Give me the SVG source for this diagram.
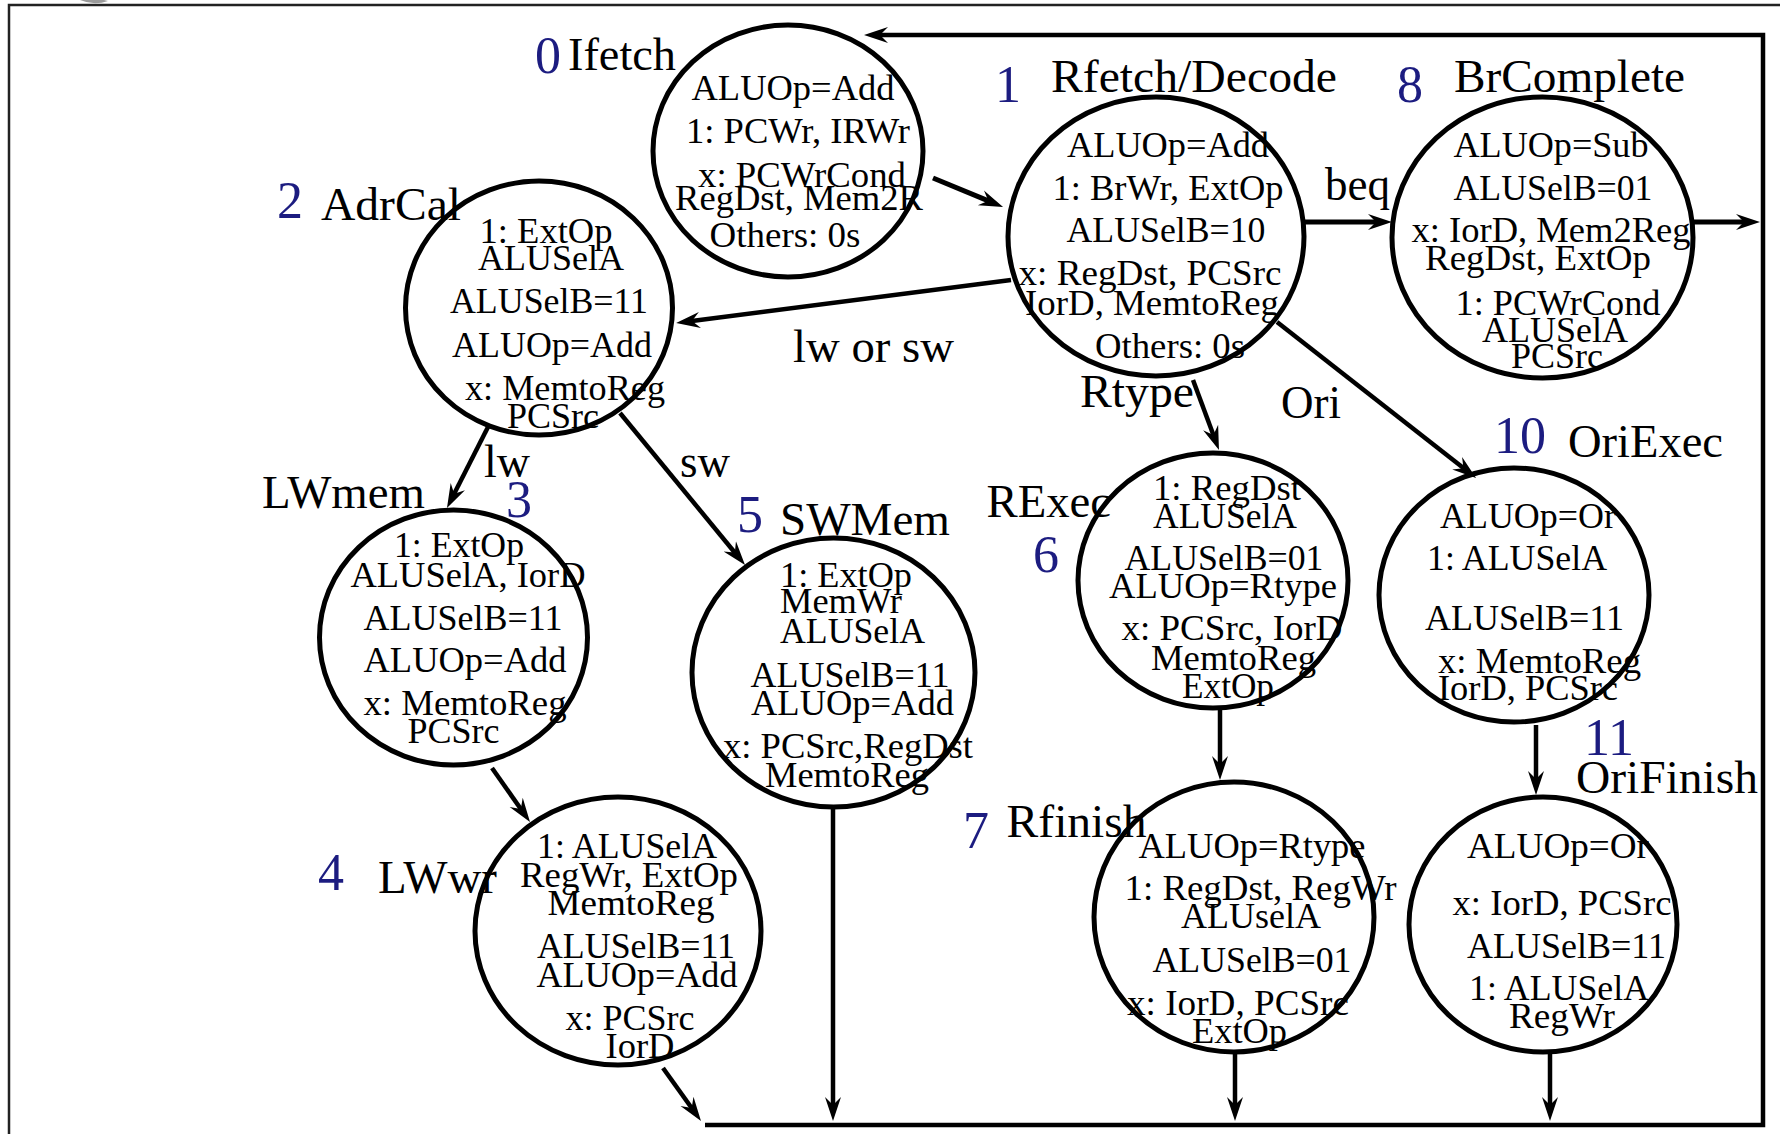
<svg xmlns="http://www.w3.org/2000/svg" width="1780" height="1134" viewBox="0 0 1780 1134">
  <style>
    .ring { fill: none; stroke: #000; stroke-width: 5; }
    .t { font-family: "Liberation Serif", "Times New Roman", serif; font-size: 36px; text-anchor: middle; fill: #000; }
    .lbl { font-family: "Liberation Serif", "Times New Roman", serif; font-size: 47px; fill: #000; }
    .num { font-family: "Liberation Serif", "Times New Roman", serif; font-size: 52px; fill: #1c1c80; }
    .edge { fill: none; stroke: #000; stroke-width: 4.5; marker-end: url(#dart); }
    .heavy { stroke-width: 5; }
  </style>
  <defs>
    <marker id="dart" markerUnits="userSpaceOnUse" markerWidth="26" markerHeight="20" viewBox="0 -10 26 20" refX="12" refY="0" orient="auto">
      <path d="M24,0 L0,-8 L8,0 L0,8 Z" fill="#000"/>
    </marker>
  </defs>

  <rect width="1780" height="1134" fill="#fff"/>
  <!-- page frame -->
  <path d="M9,1134 V5 H1780" fill="none" stroke="#222" stroke-width="2.5"/>
  <path d="M80,0 Q94,6 108,1 L104,0 Z" fill="#9a9a9a"/>

  <!-- connectors -->
  <g id="connectors">
    <path class="edge" d="M705,1125 H1763 V35 H876" stroke-width="6"/>
    <path class="edge heavy" d="M933,178 L992,202.4"/>
    <path class="edge heavy" d="M1304,222 H1380"/>
    <path class="edge heavy" d="M1693,222 H1748"/>
    <path class="edge" d="M1011,280 L688,321.5"/>
    <path class="edge" d="M488,427 L452.4,497.3"/>
    <path class="edge" d="M620,413 L737.4,555.7"/>
    <path class="edge" d="M492,768 L523.1,812.2"/>
    <path class="edge" d="M663,1068 L694,1111.2"/>
    <path class="edge" d="M833,807 V1109"/>
    <path class="edge" d="M1193,380 L1214.8,438.8"/>
    <path class="edge" d="M1277,322 L1466.6,470.6"/>
    <path class="edge" d="M1220,710 V768"/>
    <path class="edge" d="M1235,1052 V1109"/>
    <path class="edge" d="M1536,725 V783"/>
    <path class="edge" d="M1550,1053 V1109"/>
    <text class="lbl" x="1325" y="200" textLength="65" lengthAdjust="spacingAndGlyphs">beq</text>
    <text class="lbl" x="793" y="362" textLength="161" lengthAdjust="spacingAndGlyphs">lw or sw</text>
    <text class="lbl" x="484" y="477" textLength="46" lengthAdjust="spacingAndGlyphs">lw</text>
    <text class="lbl" x="680" y="477" textLength="50" lengthAdjust="spacingAndGlyphs">sw</text>
    <text class="lbl" x="1080" y="407" textLength="114" lengthAdjust="spacingAndGlyphs">Rtype</text>
    <text class="lbl" x="1281" y="418" textLength="60" lengthAdjust="spacingAndGlyphs">Ori</text>
  </g>

  <!-- state 0: instruction fetch -->
  <g id="s0-ifetch">
    <ellipse class="ring" cx="788" cy="151" rx="135" ry="126"/>
    <text class="num" x="535" y="73">0</text>
    <text class="lbl" x="568" y="70" textLength="108" lengthAdjust="spacingAndGlyphs">Ifetch</text>
    <text class="t" x="793" y="100" textLength="203" lengthAdjust="spacingAndGlyphs">ALUOp=Add</text>
    <text class="t" x="798" y="143" textLength="224" lengthAdjust="spacingAndGlyphs">1: PCWr, IRWr</text>
    <text class="t" x="802" y="187" textLength="208" lengthAdjust="spacingAndGlyphs">x: PCWrCond</text>
    <text class="t" x="799" y="210" textLength="248" lengthAdjust="spacingAndGlyphs">RegDst, Mem2R</text>
    <text class="t" x="785" y="247" textLength="151" lengthAdjust="spacingAndGlyphs">Others: 0s</text>
  </g>

  <!-- state 1: register fetch / decode -->
  <g id="s1-rfetch">
    <ellipse class="ring" cx="1156" cy="236.5" rx="148" ry="139.5"/>
    <text class="num" x="995" y="102">1</text>
    <text class="lbl" x="1051" y="92" textLength="286" lengthAdjust="spacingAndGlyphs">Rfetch/Decode</text>
    <text class="t" x="1168" y="157" textLength="202" lengthAdjust="spacingAndGlyphs">ALUOp=Add</text>
    <text class="t" x="1168" y="200" textLength="231" lengthAdjust="spacingAndGlyphs">1: BrWr, ExtOp</text>
    <text class="t" x="1166" y="242" textLength="199" lengthAdjust="spacingAndGlyphs">ALUSelB=10</text>
    <text class="t" x="1150" y="285" textLength="263" lengthAdjust="spacingAndGlyphs">x: RegDst, PCSrc</text>
    <text class="t" x="1152" y="315" textLength="254" lengthAdjust="spacingAndGlyphs">IorD, MemtoReg</text>
    <text class="t" x="1170" y="358" textLength="150" lengthAdjust="spacingAndGlyphs">Others: 0s</text>
  </g>

  <!-- state 8: branch complete -->
  <g id="s8-brcomplete">
    <ellipse class="ring" cx="1542.5" cy="237.5" rx="150.5" ry="140.5"/>
    <text class="num" x="1397" y="102">8</text>
    <text class="lbl" x="1454" y="92" textLength="231" lengthAdjust="spacingAndGlyphs">BrComplete</text>
    <text class="t" x="1551" y="157" textLength="195" lengthAdjust="spacingAndGlyphs">ALUOp=Sub</text>
    <text class="t" x="1553" y="200" textLength="199" lengthAdjust="spacingAndGlyphs">ALUSelB=01</text>
    <text class="t" x="1551" y="242" textLength="279" lengthAdjust="spacingAndGlyphs">x: IorD, Mem2Reg</text>
    <text class="t" x="1538" y="270" textLength="226" lengthAdjust="spacingAndGlyphs">RegDst, ExtOp</text>
    <text class="t" x="1558" y="315" textLength="205" lengthAdjust="spacingAndGlyphs">1: PCWrCond</text>
    <text class="t" x="1555" y="342" textLength="146" lengthAdjust="spacingAndGlyphs">ALUSelA</text>
    <text class="t" x="1557" y="368" textLength="92" lengthAdjust="spacingAndGlyphs">PCSrc</text>
  </g>

  <!-- state 2: address calculation -->
  <g id="s2-adrcal">
    <ellipse class="ring" cx="539" cy="308" rx="133.5" ry="127"/>
    <text class="num" x="277" y="218">2</text>
    <text class="lbl" x="321" y="220" textLength="140" lengthAdjust="spacingAndGlyphs">AdrCal</text>
    <text class="t" x="546" y="243" textLength="133" lengthAdjust="spacingAndGlyphs">1: ExtOp</text>
    <text class="t" x="551" y="270" textLength="146" lengthAdjust="spacingAndGlyphs">ALUSelA</text>
    <text class="t" x="549" y="313" textLength="198" lengthAdjust="spacingAndGlyphs">ALUSelB=11</text>
    <text class="t" x="552" y="357" textLength="200" lengthAdjust="spacingAndGlyphs">ALUOp=Add</text>
    <text class="t" x="565" y="400" textLength="200" lengthAdjust="spacingAndGlyphs">x: MemtoReg</text>
    <text class="t" x="553" y="428" textLength="92" lengthAdjust="spacingAndGlyphs">PCSrc</text>
  </g>

  <!-- state 3: load memory access -->
  <g id="s3-lwmem">
    <ellipse class="ring" cx="453.5" cy="637.5" rx="134" ry="127.5"/>
    <text class="lbl" x="262" y="508" textLength="163" lengthAdjust="spacingAndGlyphs">LWmem</text>
    <text class="num" x="506" y="517">3</text>
    <text class="t" x="459" y="557" textLength="130" lengthAdjust="spacingAndGlyphs">1: ExtOp</text>
    <text class="t" x="468" y="587" textLength="235" lengthAdjust="spacingAndGlyphs">ALUSelA, IorD</text>
    <text class="t" x="463" y="630" textLength="199" lengthAdjust="spacingAndGlyphs">ALUSelB=11</text>
    <text class="t" x="465" y="672" textLength="203" lengthAdjust="spacingAndGlyphs">ALUOp=Add</text>
    <text class="t" x="465" y="715" textLength="203" lengthAdjust="spacingAndGlyphs">x: MemtoReg</text>
    <text class="t" x="453.5" y="743" textLength="92" lengthAdjust="spacingAndGlyphs">PCSrc</text>
  </g>

  <!-- state 4: load write-back -->
  <g id="s4-lwwr">
    <ellipse class="ring" cx="618" cy="931" rx="143" ry="134"/>
    <text class="num" x="318" y="890">4</text>
    <text class="lbl" x="378" y="893" textLength="119" lengthAdjust="spacingAndGlyphs">LWwr</text>
    <text class="t" x="627" y="858" textLength="180" lengthAdjust="spacingAndGlyphs">1: ALUSelA</text>
    <text class="t" x="629" y="887" textLength="218" lengthAdjust="spacingAndGlyphs">RegWr, ExtOp</text>
    <text class="t" x="631" y="915" textLength="167" lengthAdjust="spacingAndGlyphs">MemtoReg</text>
    <text class="t" x="636" y="958" textLength="198" lengthAdjust="spacingAndGlyphs">ALUSelB=11</text>
    <text class="t" x="637" y="987" textLength="201" lengthAdjust="spacingAndGlyphs">ALUOp=Add</text>
    <text class="t" x="630" y="1030" textLength="129" lengthAdjust="spacingAndGlyphs">x: PCSrc</text>
    <text class="t" x="640" y="1058" textLength="69" lengthAdjust="spacingAndGlyphs">IorD</text>
  </g>

  <!-- state 5: store memory access -->
  <g id="s5-swmem">
    <ellipse class="ring" cx="833.5" cy="672.5" rx="141.5" ry="134.5"/>
    <text class="num" x="737" y="532">5</text>
    <text class="lbl" x="780" y="535" textLength="170" lengthAdjust="spacingAndGlyphs">SWMem</text>
    <text class="t" x="846" y="587" textLength="132" lengthAdjust="spacingAndGlyphs">1: ExtOp</text>
    <text class="t" x="841" y="613" textLength="122" lengthAdjust="spacingAndGlyphs">MemWr</text>
    <text class="t" x="852.5" y="643" textLength="145" lengthAdjust="spacingAndGlyphs">ALUSelA</text>
    <text class="t" x="850" y="687" textLength="199" lengthAdjust="spacingAndGlyphs">ALUSelB=11</text>
    <text class="t" x="852.5" y="715" textLength="203" lengthAdjust="spacingAndGlyphs">ALUOp=Add</text>
    <text class="t" x="848" y="758" textLength="250" lengthAdjust="spacingAndGlyphs">x: PCSrc,RegDst</text>
    <text class="t" x="847" y="787" textLength="164" lengthAdjust="spacingAndGlyphs">MemtoReg</text>
  </g>

  <!-- state 6: R-type execute -->
  <g id="s6-rexec">
    <ellipse class="ring" cx="1213" cy="580.5" rx="135" ry="127.5"/>
    <text class="lbl" x="986.5" y="517" textLength="124.5" lengthAdjust="spacingAndGlyphs">RExec</text>
    <text class="num" x="1033" y="572">6</text>
    <text class="t" x="1227" y="500" textLength="148" lengthAdjust="spacingAndGlyphs">1: RegDst</text>
    <text class="t" x="1225" y="528" textLength="144" lengthAdjust="spacingAndGlyphs">ALUSelA</text>
    <text class="t" x="1224" y="570" textLength="199" lengthAdjust="spacingAndGlyphs">ALUSelB=01</text>
    <text class="t" x="1223" y="598" textLength="228" lengthAdjust="spacingAndGlyphs">ALUOp=Rtype</text>
    <text class="t" x="1232" y="640" textLength="221" lengthAdjust="spacingAndGlyphs">x: PCSrc, IorD</text>
    <text class="t" x="1233.5" y="670" textLength="165" lengthAdjust="spacingAndGlyphs">MemtoReg</text>
    <text class="t" x="1228" y="698" textLength="92" lengthAdjust="spacingAndGlyphs">ExtOp</text>
  </g>

  <!-- state 7: R-type finish -->
  <g id="s7-rfinish">
    <ellipse class="ring" cx="1234" cy="917" rx="140" ry="135"/>
    <text class="num" x="963" y="848">7</text>
    <text class="lbl" x="1006.6" y="837" textLength="140" lengthAdjust="spacingAndGlyphs">Rfinish</text>
    <text class="t" x="1252" y="858" textLength="227" lengthAdjust="spacingAndGlyphs">ALUOp=Rtype</text>
    <text class="t" x="1260.5" y="900" textLength="272" lengthAdjust="spacingAndGlyphs">1: RegDst, RegWr</text>
    <text class="t" x="1251" y="928" textLength="140" lengthAdjust="spacingAndGlyphs">ALUselA</text>
    <text class="t" x="1252" y="972" textLength="199" lengthAdjust="spacingAndGlyphs">ALUSelB=01</text>
    <text class="t" x="1238" y="1015" textLength="222" lengthAdjust="spacingAndGlyphs">x: IorD, PCSrc</text>
    <text class="t" x="1239.5" y="1043" textLength="95" lengthAdjust="spacingAndGlyphs">ExtOp</text>
  </g>

  <!-- state 10: ori execute -->
  <g id="s10-oriexec">
    <ellipse class="ring" cx="1514" cy="595" rx="135" ry="127"/>
    <text class="num" x="1494" y="453">10</text>
    <text class="lbl" x="1568" y="457" textLength="155" lengthAdjust="spacingAndGlyphs">OriExec</text>
    <text class="t" x="1528" y="528" textLength="176" lengthAdjust="spacingAndGlyphs">ALUOp=Or</text>
    <text class="t" x="1517" y="570" textLength="180" lengthAdjust="spacingAndGlyphs">1: ALUSelA</text>
    <text class="t" x="1524.5" y="630" textLength="199" lengthAdjust="spacingAndGlyphs">ALUSelB=11</text>
    <text class="t" x="1539.5" y="673" textLength="203" lengthAdjust="spacingAndGlyphs">x: MemtoReg</text>
    <text class="t" x="1528" y="700" textLength="180" lengthAdjust="spacingAndGlyphs">IorD, PCSrc</text>
  </g>

  <!-- state 11: ori finish -->
  <g id="s11-orifinish">
    <ellipse class="ring" cx="1543" cy="924.5" rx="134" ry="127.5"/>
    <text class="num" x="1584" y="755">11</text>
    <text class="lbl" x="1576" y="793" textLength="182" lengthAdjust="spacingAndGlyphs">OriFinish</text>
    <text class="t" x="1558" y="858" textLength="182" lengthAdjust="spacingAndGlyphs">ALUOp=Or</text>
    <text class="t" x="1562" y="915" textLength="219" lengthAdjust="spacingAndGlyphs">x: IorD, PCSrc</text>
    <text class="t" x="1566.5" y="958" textLength="199" lengthAdjust="spacingAndGlyphs">ALUSelB=11</text>
    <text class="t" x="1559" y="1000" textLength="180" lengthAdjust="spacingAndGlyphs">1: ALUSelA</text>
    <text class="t" x="1562" y="1028" textLength="106" lengthAdjust="spacingAndGlyphs">RegWr</text>
  </g>
</svg>
